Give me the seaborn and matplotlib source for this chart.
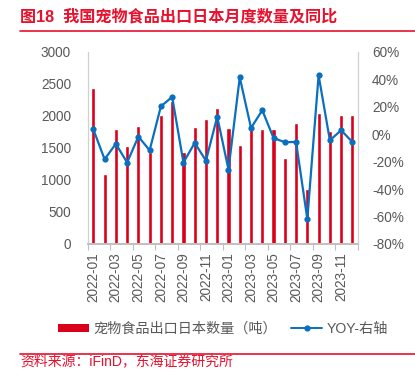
import numpy as np
import pandas as pd
import matplotlib
matplotlib.use("Agg")
import matplotlib.pyplot as plt
import seaborn as sns
from matplotlib.patches import Patch
from matplotlib.lines import Line2D

months = ["2022-01", "2022-02", "2022-03", "2022-04", "2022-05", "2022-06",
          "2022-07", "2022-08", "2022-09", "2022-10", "2022-11", "2022-12",
          "2023-01", "2023-02", "2023-03", "2023-04", "2023-05", "2023-06",
          "2023-07", "2023-08", "2023-09", "2023-10", "2023-11", "2023-12"]
volume = [2445, 1090, 1800, 1530, 1850, 1430, 2010, 2240, 1430, 1830, 1955, 2130,
          1815, 1545, 1880, 1795, 1795, 1345, 1890, 860, 2050, 1765, 2010, 2010]
yoy = [3.6, -18.2, -7.0, -20.6, -1.7, -11.7, 20.4, 27.2, -20.6, -6.3, -19.2, 12.8,
       -25.7, 41.5, 4.6, 17.5, -2.7, -5.8, -5.6, -61.9, 43.0, -4.4, 2.9, -5.6]

left_ticks = [0, 500, 1000, 1500, 2000, 2500, 3000]
right_ticks = [-80, -60, -40, -20, 0, 20, 40, 60]

title = "图18  我国宠物食品出口日本月度数量及同比"
source = "资料来源：iFinD，东海证券研究所"
bar_label = "宠物食品出口日本数量（吨）"
line_label = "YOY-右轴"

RED = "#D9001B"
BLUE = "#0B6FC0"
TRED = "#E8112D"
GREY = "#595959"
SPINE = "#D0D0D0"

sns.set_theme(style="white")
plt.rcParams["font.family"] = ["Liberation Sans", "Noto Sans CJK SC", "DejaVu Sans"]

df = pd.DataFrame({"month": months, "volume": volume, "yoy": yoy})

fig = plt.figure(figsize=(4.15, 3.69), dpi=100)
ax = fig.add_axes([0.2113, 0.3388, 0.6514, 0.5203])

sns.barplot(data=df, x="month", y="volume", color=RED, saturation=1,
            width=0.37, ax=ax)
ax.set_xlim(-0.5, len(months) - 0.5)
ax.set_ylim(0, 3000)
ax.set_yticks(left_ticks)
ax.set_yticklabels([str(v) for v in left_ticks])
ax.set_xlabel("")
ax.set_ylabel("")

pos = np.arange(len(months))
ax.set_xticks(pos[::2])
ax.set_xticklabels(months[::2], rotation=90)
ax.set_xticks(np.arange(-0.5, len(months), 2), minor=True)
ax.tick_params(axis="x", which="major", length=0, pad=6, labelsize=9.8, colors=GREY)
ax.tick_params(axis="x", which="minor", length=4, width=0.8, color="#BFBFBF", bottom=True)
ax.tick_params(axis="y", length=0, labelsize=9.8, colors=GREY, pad=12)

ax2 = ax.twinx()
sns.lineplot(x=pos, y=df["yoy"].values, ax=ax2, color=BLUE, linewidth=1.6,
             marker="o", markersize=4.5, markeredgewidth=0)
ax2.set_ylim(-80, 60)
ax2.set_yticks(right_ticks)
ax2.set_yticklabels([f"{v}%" for v in right_ticks])
ax2.tick_params(axis="y", length=0, labelsize=9.8, colors=GREY, pad=10)
ax2.set_xlim(-0.5, len(months) - 0.5)

for a in (ax, ax2):
    a.spines["top"].set_visible(False)
    a.spines["left"].set_color(SPINE)
    a.spines["right"].set_color(SPINE)
    a.spines["bottom"].set_color("#BFBFBF")
    a.spines["left"].set_linewidth(0.9)
    a.spines["right"].set_linewidth(0.9)
    a.grid(False)
ax2.spines["left"].set_visible(False)
ax.spines["right"].set_visible(False)

# title and rules
fig.text(20 / 415, 1 - 17 / 369, title, color=TRED, fontsize=11.6,
         fontweight="bold", va="center", ha="left",
         family=["Liberation Sans", "Noto Sans CJK SC"])
fig.add_artist(Line2D([20 / 415, 1.0], [1 - 31 / 369] * 2, color=TRED, linewidth=1.2))
fig.add_artist(Line2D([20 / 415, 1.0], [1 - 354 / 369] * 2, color=TRED, linewidth=1.2))
fig.text(20 / 415, 1 - 368.5 / 369, source, color=TRED, fontsize=10,
         va="bottom", ha="left", family=["Liberation Sans", "Noto Sans CJK SC"])

handles = [Patch(facecolor=RED, edgecolor="none", label=bar_label),
           Line2D([], [], color=BLUE, linewidth=1.4, marker="o", markersize=3.5,
                  label=line_label)]
fig.legend(handles=handles, loc="center", bbox_to_anchor=(223 / 415, 1 - 329 / 369),
           ncol=2, frameon=False, fontsize=10.2, handlelength=2.2, handleheight=0.5,
           handletextpad=0.3, columnspacing=1.0, labelcolor=GREY)

fig.savefig("out.png", dpi=100)
